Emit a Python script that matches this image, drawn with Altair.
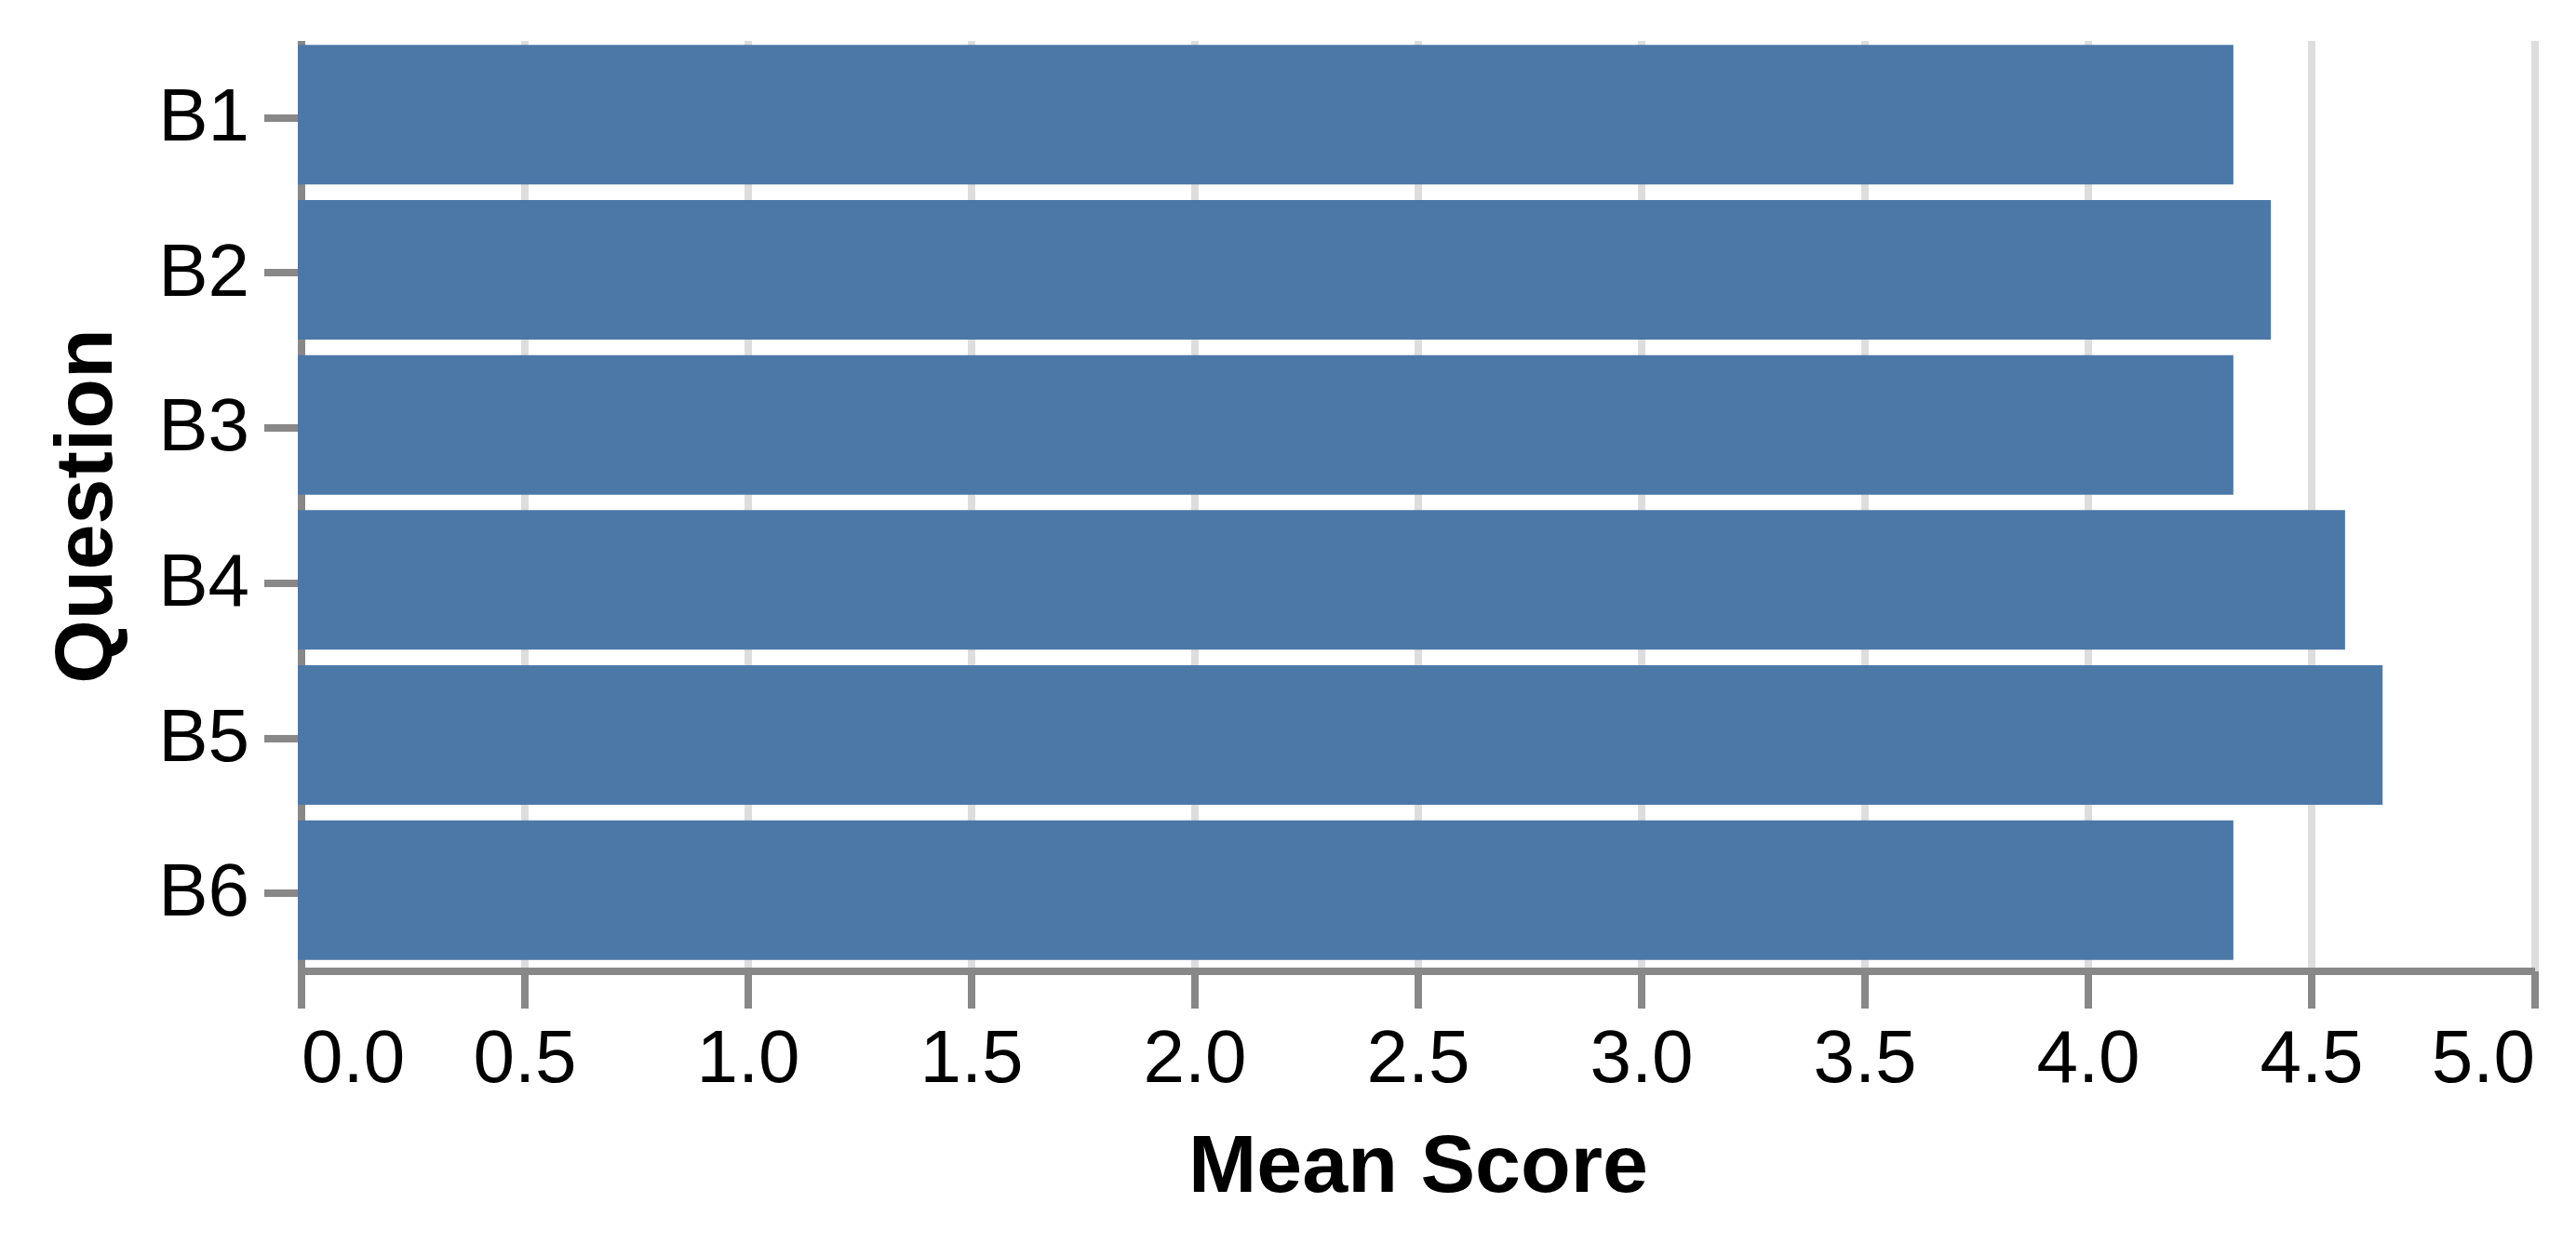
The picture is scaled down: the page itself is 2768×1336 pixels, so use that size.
import altair as alt
import pandas as pd

questions = ["B1", "B2", "B3", "B4", "B5", "B6"]
mean_scores = [4.333, 4.417, 4.333, 4.583, 4.667, 4.333]
x_ticks = [0.0, 0.5, 1.0, 1.5, 2.0, 2.5, 3.0, 3.5, 4.0, 4.5, 5.0]

df = pd.DataFrame({"Question": questions, "Mean Score": mean_scores})

S = 8  # overall scale factor of the reference rendering
FONT = "Liberation Sans"

chart = (
    alt.Chart(df)
    .mark_bar(color="#4c78a8")
    .encode(
        x=alt.X(
            "Mean Score:Q",
            title="Mean Score",
            scale=alt.Scale(domain=[0, 5]),
            axis=alt.Axis(values=x_ticks, format=".1f", grid=True),
        ),
        y=alt.Y(
            "Question:N",
            title="Question",
            sort=questions,
            scale=alt.Scale(paddingInner=0.1, paddingOuter=0.05),
        ),
    )
    .properties(
        width=300 * S,
        height=125 * S,
        autosize=alt.AutoSizeParams(type="none"),
        padding={"left": 312, "top": 32, "right": 32, "bottom": 280},
    )
    .configure_axis(
        translate=0.5 * S,
        domainWidth=1 * S,
        domainColor="#888",
        tickWidth=1 * S,
        tickSize=5 * S,
        tickColor="#888",
        gridWidth=1 * S,
        gridColor="#ddd",
        labelFont=FONT,
        labelFontSize=10 * S,
        labelPadding=2 * S,
        labelColor="#000",
        titleFont=FONT,
        titleFontSize=11 * S,
        titleFontWeight="bold",
        titlePadding=4 * S,
        titleColor="#000",
    )
    .configure_view(stroke=None)
)

chart.save("out.html", embed_options={"renderer": "svg", "actions": False})
